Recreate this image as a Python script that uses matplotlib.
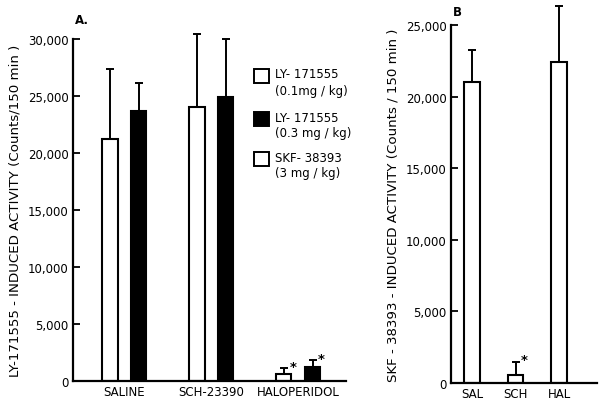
import matplotlib.pyplot as plt
from matplotlib.patches import Rectangle
import numpy as np

# panel A data
groups_a = ["SALINE", "SCH-23390", "HALOPERIDOL"]
ly_low = [21200, 24000, 600]        # LY-171555 0.1 mg/kg
ly_low_err = [6200, 6400, 500]
ly_high = [23700, 24900, 1200]      # LY-171555 0.3 mg/kg
ly_high_err = [2400, 5100, 600]
star_a = [False, False, True]

# panel B data
groups_b = ["SAL", "SCH", "HAL"]
skf = [21000, 550, 22400]           # SKF-38393 3 mg/kg
skf_err = [2250, 900, 3900]
star_b = [False, True, False]

W, H = 600, 406
plt.rcParams['font.family'] = 'DejaVu Sans'
fig = plt.figure(figsize=(6, 4.06), dpi=100)


def px_axes(left, right, bottom, top):
    return fig.add_axes([left / W, (H - bottom) / H, (right - left) / W, (bottom - top) / H])


def style_axes(ax):
    for s in ['top', 'right']:
        ax.spines[s].set_visible(False)
    for s in ['left', 'bottom']:
        ax.spines[s].set_linewidth(1.6)
    ax.tick_params(axis='y', direction='in', length=5, width=1.3, labelsize=8.5, pad=3)
    ax.tick_params(axis='x', length=0, labelsize=8.5, pad=3)


def add_err(ax, x, vals, errs):
    ax.errorbar(x, vals, yerr=[np.zeros(len(vals)), errs], fmt='none',
                ecolor='black', elinewidth=1.4, capsize=3, capthick=1.4,
                clip_on=False, zorder=1)


def add_stars(ax, x, vals, errs, flags):
    for xi, v, e, f in zip(x, vals, errs, flags):
        if f:
            ax.annotate('*', (xi, v + e), xytext=(4, -3), textcoords='offset points',
                        ha='left', va='bottom', fontsize=9.5, fontweight='bold',
                        annotation_clip=False)


# ---- panel A ----
ax1 = px_axes(73, 346, 382, 40)
x = np.arange(len(groups_a))
off, bw = 0.165, 0.175
ax1.bar(x - off, ly_low, bw, color='white', edgecolor='black', linewidth=1.5, zorder=2)
ax1.bar(x + off, ly_high, bw, color='black', edgecolor='black', linewidth=1.5, zorder=2)
add_err(ax1, x - off, ly_low, ly_low_err)
add_err(ax1, x + off, ly_high, ly_high_err)
add_stars(ax1, x - off, ly_low, ly_low_err, star_a)
add_stars(ax1, x + off, ly_high, ly_high_err, star_a)
ax1.set_xlim(-0.59, 2.55)
ax1.set_ylim(0, 30000)
ax1.set_yticks(range(0, 30001, 5000))
ax1.set_yticklabels(['0', '5,000', '10,000', '15,000', '20,000', '25,000', '30,000'])
ax1.set_xticks(x)
ax1.set_xticklabels(groups_a)
style_axes(ax1)
ax1.set_ylabel('LY-171555 - INDUCED ACTIVITY (Counts/150 min )', fontsize=9.6, labelpad=5)
fig.text(75 / W, 1 - 20 / H, 'A.', fontsize=8.5, fontweight='bold', ha='left', va='center')

# legend drawn by hand
legend_items = [('white', 'LY- 171555', '(0.1mg / kg)', 70),
                ('black', 'LY- 171555', '(0.3 mg / kg)', 113),
                ('white', 'SKF- 38393', '(3 mg / kg)', 153)]
for fc, l1, l2, top in legend_items:
    fig.patches.append(Rectangle((254 / W, 1 - (top + 14) / H), 15 / W, 14 / H,
                                 facecolor=fc, edgecolor='black', linewidth=1.4,
                                 transform=fig.transFigure, figure=fig))
    fig.text(275 / W, 1 - (top + 5) / H, l1, fontsize=8.5, ha='left', va='center')
    fig.text(275 / W, 1 - (top + 21) / H, l2, fontsize=8.5, ha='left', va='center')

# ---- panel B ----
ax2 = px_axes(451, 597, 384, 26)
xb = np.arange(len(groups_b))
ax2.bar(xb, skf, 0.36, color='white', edgecolor='black', linewidth=1.5, zorder=2)
add_err(ax2, xb, skf, skf_err)
add_stars(ax2, xb, skf, skf_err, star_b)
ax2.set_xlim(-0.48, 2.87)
ax2.set_ylim(0, 25000)
ax2.set_yticks(range(0, 25001, 5000))
ax2.set_yticklabels(['0', '5,000', '10,000', '15,000', '20,000', '25,000'])
ax2.set_xticks(xb)
ax2.set_xticklabels(groups_b)
style_axes(ax2)
ax2.set_ylabel('SKF - 38393 - INDUCED ACTIVITY (Counts / 150 min )', fontsize=9.6, labelpad=5)
fig.text(453 / W, 1 - 12 / H, 'B', fontsize=8.5, fontweight='bold', ha='left', va='center')

fig.savefig('out.png', dpi=100)
